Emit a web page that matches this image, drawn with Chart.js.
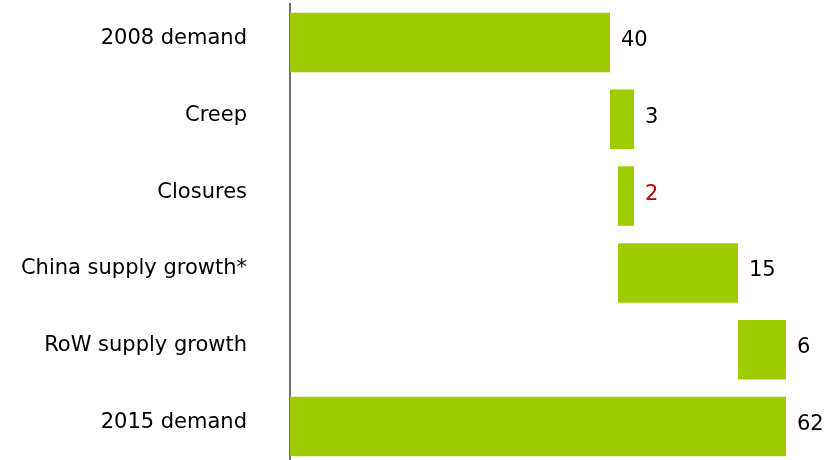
<!DOCTYPE html>
<html>
<head>
<meta charset="utf-8">
<script src="https://cdn.jsdelivr.net/npm/chart.js@4/dist/chart.umd.min.js"></script>
<style>
    html, body { margin: 0; padding: 0; background: #fff; overflow: hidden; }
    canvas { display: block; }
</style>
</head>
<body>
<canvas id="waterfallChart" width="827" height="465"></canvas>
<script>
// Waterfall data (units)
const categories = ['2008 demand', 'Creep', 'Closures', 'China supply growth*', 'RoW supply growth', '2015 demand'];
const barStarts = [0, 40, 41, 41, 56, 0];
const barEnds = [40, 43, 43, 56, 62, 62];
const valueLabels = ['40', '3', '2', '15', '6', '62'];
const labelColors = ['#000000', '#000000', '#C00000', '#000000', '#000000', '#000000'];

const FONT = 'Verdana, "DejaVu Sans", sans-serif';

// Draw the value next to the end of each bar
const valueLabelPlugin = {
    id: 'valueLabels',
    afterDatasetsDraw(chart) {
        const ctx = chart.ctx;
        const meta = chart.getDatasetMeta(0);
        ctx.save();
        ctx.font = '21px ' + FONT;
        ctx.textAlign = 'left';
        ctx.textBaseline = 'middle';
        meta.data.forEach((bar, i) => {
            const right = Math.max(bar.x, bar.base);
            ctx.fillStyle = labelColors[i];
            ctx.fillText(valueLabels[i], right + 11, bar.y - 2);
        });
        ctx.restore();
    }
};

new Chart(document.getElementById('waterfallChart'), {
    type: 'bar',
    data: {
        labels: categories,
        datasets: [{
            data: barStarts.map((s, i) => [s, barEnds[i]]),
            backgroundColor: '#9ECC00',
            borderWidth: 0,
            barPercentage: 0.775,
            categoryPercentage: 1
        }]
    },
    options: {
        indexAxis: 'y',
        responsive: false,
        animation: false,
        layout: { padding: { top: 4, right: 1, bottom: 0, left: 0 } },
        plugins: {
            legend: { display: false },
            tooltip: { enabled: false }
        },
        scales: {
            x: {
                display: false,
                min: 0,
                max: 67
            },
            y: {
                grid: { display: false, drawTicks: true, tickLength: 43 },
                border: { display: true, color: '#707070', width: 2 },
                ticks: {
                    color: '#000000',
                    padding: 0,
                    labelOffset: -4,
                    font: { family: FONT, size: 21 }
                },
                afterFit: function (scale) {
                    // no extra room above/below for labels, fixed axis position
                    scale.paddingTop = 0;
                    scale.paddingBottom = 0;
                    scale.width = 290;
                }
            }
        }
    },
    plugins: [valueLabelPlugin]
});
</script>
</body>
</html>
